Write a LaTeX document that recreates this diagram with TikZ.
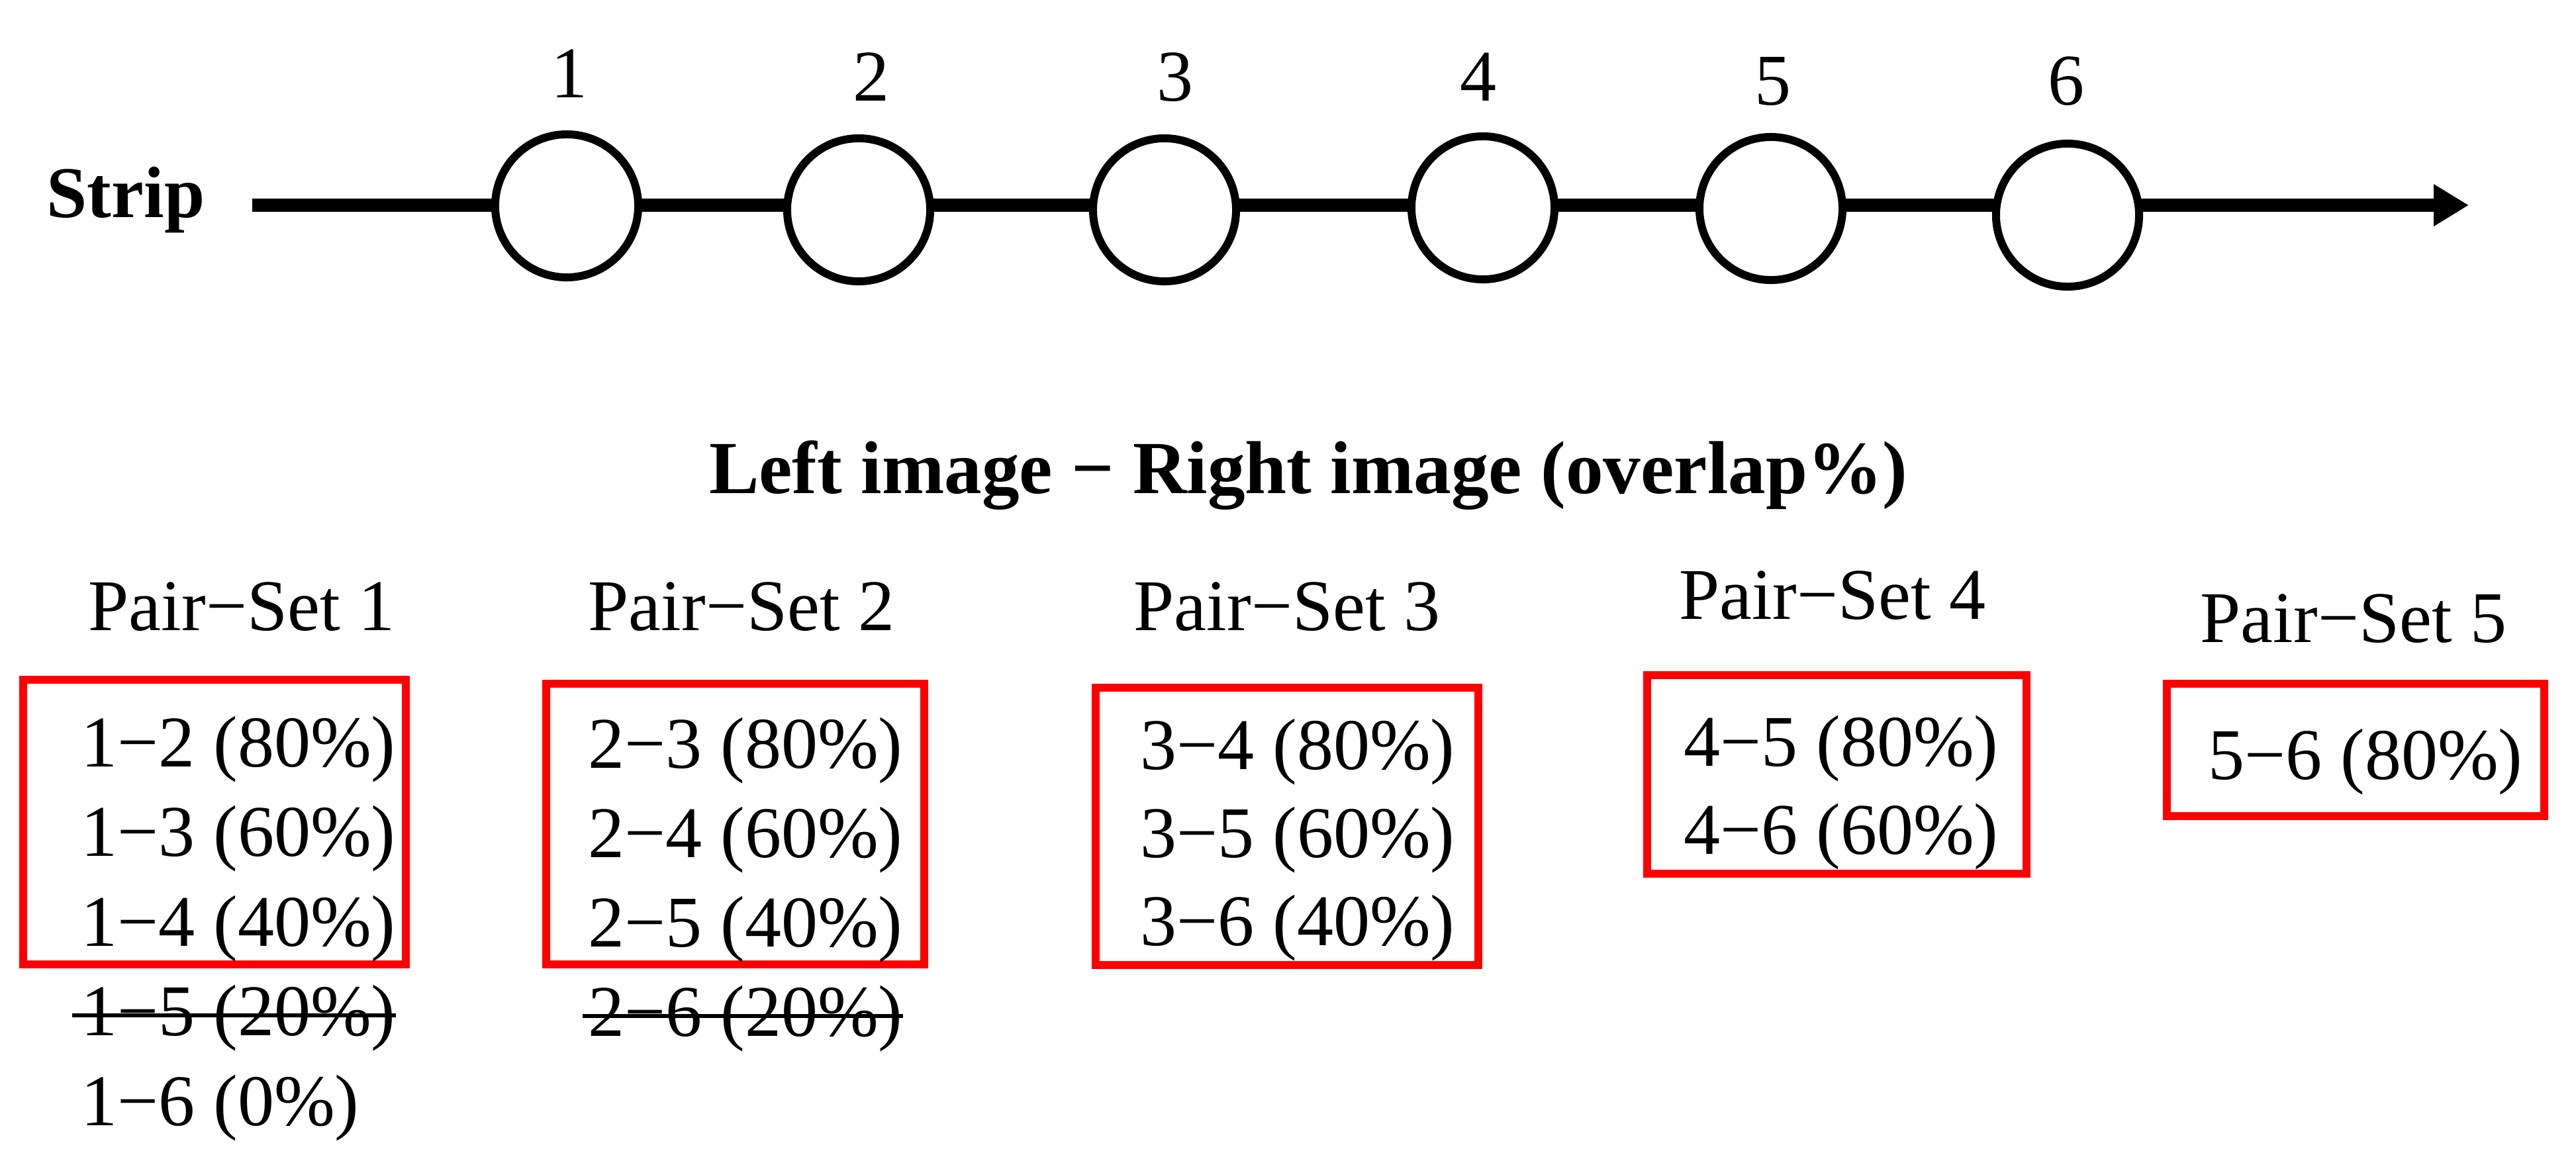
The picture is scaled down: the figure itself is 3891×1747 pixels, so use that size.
\documentclass[tikz,border=0pt]{standalone}
\usepackage{fontspec}
\setmainfont{Liberation Serif}
\usetikzlibrary{arrows.meta}
\begin{document}
\begin{tikzpicture}[x=0.01cm, y=-0.01cm,
  txt/.style={font=\fontsize{31.3}{37}\selectfont, inner sep=0, anchor=base west},
  numlabel/.style={font=\fontsize{31.3}{37}\selectfont, inner sep=0, anchor=base},
  boldtxt/.style={font=\fontsize{31.3}{37}\selectfont\bfseries, inner sep=0, anchor=base west},
  titletxt/.style={font=\fontsize{32.2}{38}\selectfont\bfseries, inner sep=0, anchor=base},
  stationc/.style={circle, draw=black, line width=0.12cm, minimum size=2.16cm, inner sep=0, fill=white},
  stripline/.style={line width=0.2cm, -{Triangle[length=0.53cm, width=0.6cm]}},
  redbox/.style={draw=red, line width=0.12cm},
  strike/.style={line width=0.06cm, black}
]
\useasboundingbox (0,0) rectangle (3891,1747);

% strip
\node[boldtxt] (strip) at (70,328) {Strip};
\coordinate (s0) at (381,310);
\coordinate (s1) at (3729,310);
\draw[stripline] (s0) -- (s1);

\node[stationc] (c1) at (856,311) {};
\node[stationc] (c2) at (1297,317) {};
\node[stationc] (c3) at (1759,317) {};
\node[stationc] (c4) at (2240,314) {};
\node[stationc] (c5) at (2675,315) {};
\node[stationc] (c6) at (3123,325) {};

\node[numlabel] (l1) at (860,147) {1};
\node[numlabel] (l2) at (1316,152) {2};
\node[numlabel] (l3) at (1775,152) {3};
\node[numlabel] (l4) at (2233,152) {4};
\node[numlabel] (l5) at (2678,158) {5};
\node[numlabel] (l6) at (3121,158) {6};

% title
\node[titletxt] (title) at (1976,745) {Left image − Right image (overlap\%)};

% headers
\node[txt] (h1) at (133,952) {Pair−Set 1};
\node[txt] (h2) at (888,952) {Pair−Set 2};
\node[txt] (h3) at (1712,952) {Pair−Set 3};
\node[txt] (h4) at (2536,935) {Pair−Set 4};
\node[txt] (h5) at (3323,970) {Pair−Set 5};

% boxes
\draw[redbox] (35,1027) rectangle (613,1457);
\draw[redbox] (825,1033) rectangle (1396,1457);
\draw[redbox] (1655,1039) rectangle (2233,1458);
\draw[redbox] (2488,1020) rectangle (3061,1320);
\draw[redbox] (3273,1033) rectangle (3843,1233);

% set 1
\node[txt] (p12) at (122,1158) {1−2 (80\%)};
\node[txt] (p13) at (122,1293) {1−3 (60\%)};
\node[txt] (p14) at (122,1429) {1−4 (40\%)};
\node[txt] (p15) at (122,1564) {1−5 (20\%)};
\node[txt] (p16) at (122,1700) {1−6 (0\%)};
\draw[strike] ([shift={(-13,-30)}]p15.base west) -- ([shift={(0,-30)}]p15.base east);

% set 2
\node[txt] (p23) at (888,1160) {2−3 (80\%)};
\node[txt] (p24) at (888,1295) {2−4 (60\%)};
\node[txt] (p25) at (888,1430) {2−5 (40\%)};
\node[txt] (p26) at (888,1565) {2−6 (20\%)};
\draw[strike] ([shift={(-8,-30)}]p26.base west) -- ([shift={(0,-30)}]p26.base east);

% set 3
\node[txt] (p34) at (1722,1162) {3−4 (80\%)};
\node[txt] (p35) at (1722,1295) {3−5 (60\%)};
\node[txt] (p36) at (1722,1428) {3−6 (40\%)};

% set 4
\node[txt] (p45) at (2543,1157) {4−5 (80\%)};
\node[txt] (p46) at (2543,1290) {4−6 (60\%)};

% set 5
\node[txt] (p56) at (3335,1177) {5−6 (80\%)};
\end{tikzpicture}
\end{document}
